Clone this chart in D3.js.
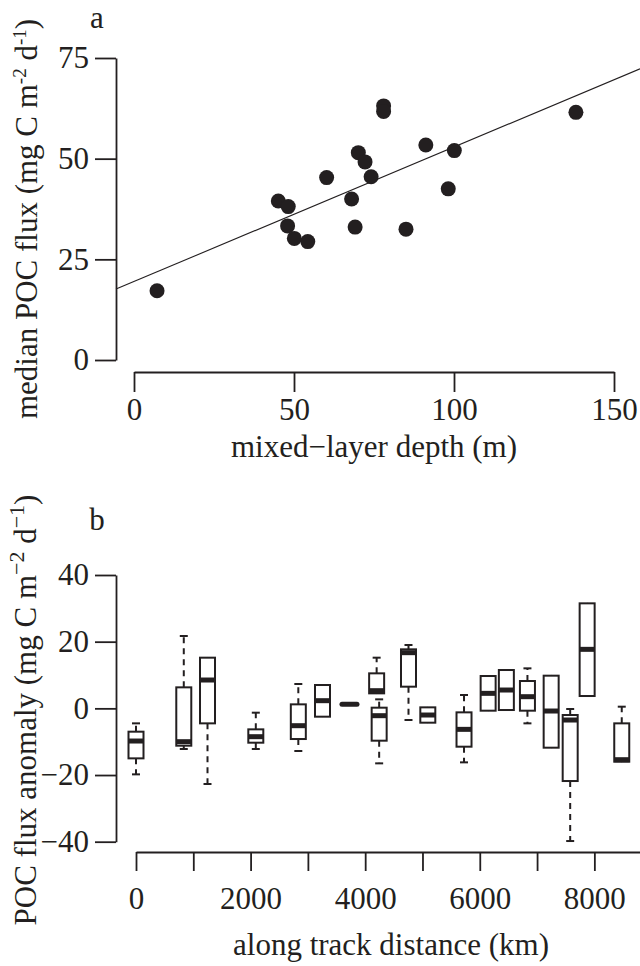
<!DOCTYPE html>
<meta charset="utf-8">
<style>
  body { margin: 0; background: #fff; }
  text { font-family: "Liberation Serif", "Times New Roman", serif; }
</style>
<svg width="640" height="966"></svg>
<script src="https://d3js.org/d3.v7.min.js"></script>
<script>

// panel a: mixed-layer depth vs median POC flux
var mld  = [7.2, 45.1, 48.2, 48.0, 50.1, 54.3, 60.2, 68.0, 69.1, 70.1, 72.2, 74.1, 78.0, 78.0, 85.0, 91.2, 98.2, 100.1, 138.1];
var flux = [17.2, 39.5, 38.1, 33.3, 30.2, 29.4, 45.3, 40.0, 33.0, 51.5, 49.2, 45.5, 63.1, 61.7, 32.5, 53.4, 42.5, 52.0, 61.5];
var fitIntercept = 19.5,
    fitSlope = 0.334;
var mldTicks = [0, 50, 100, 150];
var fluxTicks = [0, 25, 50, 75];

// panel b: POC flux anomaly along the track
var distance = [0, 834, 1248, 2091, 2833, 3255, 3726, 4200, 4244, 4756, 5093, 5725, 6146, 6464, 6832, 7246, 7578, 7874, 8478];
var whiskLo  = [-19.8, -12.2, -22.7, -12.2, -12.8, -2.5, 1.2, 4.5, -16.5, -3.5, -4.3, -16.2, -0.7, -0.5, -4.5, -11.8, -39.8, 3.7, -16.0];
var q1       = [-15.0, -11.2, -4.5, -10.3, -9.2, -2.5, 1.2, 4.5, -9.7, 6.5, -4.3, -11.5, -0.7, -0.5, -0.7, -11.8, -21.8, 3.7, -16.0];
var median   = [-9.8, -10.0, 8.5, -8.5, -5.2, 2.3, 1.2, 5.3, -2.2, 16.7, -2.0, -6.3, 4.5, 5.5, 3.5, -0.8, -3.5, 17.7, -15.4];
var q3       = [-7.0, 6.3, 15.2, -6.3, 1.2, 7.0, 1.2, 10.5, 0.2, 17.7, 0.3, -1.2, 9.7, 11.5, 8.2, 9.8, -2.0, 31.5, -4.5];
var whiskHi  = [-4.5, 21.7, 15.2, -1.3, 7.3, 7.0, 1.2, 15.2, 2.7, 19.0, 0.3, 4.0, 9.7, 11.5, 12.0, 9.8, -0.2, 31.5, 0.5];
var distTicks = d3.range(0, 8001, 1000);
var anomTicks = [-40, -20, 0, 20, 40];

var ink = "#231f20";
var svg = d3.select("svg");

function styleAxis(g) {
  g.attr("font-family", "'Liberation Serif', 'Times New Roman', serif")
   .attr("font-size", 31);
  g.selectAll("path, line").attr("stroke", ink).attr("stroke-width", 1.8);
  g.selectAll("text").attr("fill", ink);
}

// ---------- panel a ----------
var x1 = d3.scaleLinear().domain([0, 150]).range([134, 614]);
var y1 = d3.scaleLinear().domain([0, 75]).range([360, 58]);

svg.append("g")
    .attr("transform", "translate(0,372)")
    .call(d3.axisBottom(x1).tickValues(mldTicks).tickSize(20).tickSizeOuter(0).tickPadding(6))
    .call(styleAxis);

svg.append("g")
    .attr("transform", "translate(116,0)")
    .call(d3.axisLeft(y1).tickValues(fluxTicks).tickSize(21).tickSizeOuter(0).tickPadding(6))
    .call(styleAxis);

// regression line across the plot region
var xa = x1.invert(116), xb = x1.invert(640);
svg.append("line")
    .attr("x1", x1(xa)).attr("y1", y1(fitIntercept + fitSlope * xa))
    .attr("x2", x1(xb)).attr("y2", y1(fitIntercept + fitSlope * xb))
    .attr("stroke", ink)
    .attr("stroke-width", 1.1);

svg.append("g")
  .selectAll("circle")
  .data(mld)
  .enter().append("circle")
    .attr("cx", function(d) { return x1(d); })
    .attr("cy", function(d, i) { return y1(flux[i]); })
    .attr("r", 7.5)
    .attr("fill", ink);

svg.append("text")
    .attr("x", 97).attr("y", 28)
    .attr("text-anchor", "middle")
    .attr("font-size", 31)
    .attr("fill", ink)
    .text("a");

svg.append("text")
    .attr("x", 374).attr("y", 457)
    .attr("text-anchor", "middle")
    .attr("font-size", 31)
    .attr("fill", ink)
    .text("mixed\u2212layer depth (m)");

var ylab1 = svg.append("text")
    .attr("transform", "translate(37,219) rotate(-90)")
    .attr("text-anchor", "middle")
    .attr("font-size", 31)
    .attr("fill", ink);
ylab1.append("tspan").text("median POC flux (mg C m");
ylab1.append("tspan").attr("dy", -11).attr("font-size", 19).text("-2");
ylab1.append("tspan").attr("dy", 11).text(" d");
ylab1.append("tspan").attr("dy", -11).attr("font-size", 19).text("-1");
ylab1.append("tspan").attr("dy", 11).text(")");

// ---------- panel b ----------
var x2 = d3.scaleLinear().domain([0, 8800]).range([136, 640.2]);
var y2 = d3.scaleLinear().domain([-40, 40]).range([841.7, 575]);

svg.append("g")
    .attr("transform", "translate(0,852)")
    .call(d3.axisBottom(x2).tickValues(distTicks).tickSize(19).tickSizeOuter(0).tickPadding(16)
      .tickFormat(function(d) { return d % 2000 === 0 ? d : ""; }))
    .call(styleAxis);

svg.append("g")
    .attr("transform", "translate(116,0)")
    .call(d3.axisLeft(y2).tickValues(anomTicks).tickSize(21).tickSizeOuter(0).tickPadding(6))
    .call(styleAxis);

var boxW = 15, capW = 8;
var boxes = svg.append("g")
  .selectAll("g")
  .data(distance)
  .enter().append("g");

// whiskers (dashed) and caps
boxes.append("line")
    .attr("x1", function(d) { return x2(d); }).attr("x2", function(d) { return x2(d); })
    .attr("y1", function(d, i) { return y2(q3[i]); })
    .attr("y2", function(d, i) { return y2(whiskHi[i]); })
    .attr("stroke", ink).attr("stroke-width", 2).attr("stroke-dasharray", "6,5");
boxes.append("line")
    .attr("x1", function(d) { return x2(d); }).attr("x2", function(d) { return x2(d); })
    .attr("y1", function(d, i) { return y2(q1[i]); })
    .attr("y2", function(d, i) { return y2(whiskLo[i]); })
    .attr("stroke", ink).attr("stroke-width", 2).attr("stroke-dasharray", "6,5");
boxes.filter(function(d, i) { return whiskHi[i] > q3[i]; })
  .append("line")
    .attr("x1", function(d) { return x2(d) - capW / 2; })
    .attr("x2", function(d) { return x2(d) + capW / 2; })
    .attr("y1", function(d) { var i = distance.indexOf(d); return y2(whiskHi[i]); })
    .attr("y2", function(d) { var i = distance.indexOf(d); return y2(whiskHi[i]); })
    .attr("stroke", ink).attr("stroke-width", 2);
boxes.filter(function(d, i) { return whiskLo[i] < q1[i]; })
  .append("line")
    .attr("x1", function(d) { return x2(d) - capW / 2; })
    .attr("x2", function(d) { return x2(d) + capW / 2; })
    .attr("y1", function(d) { var i = distance.indexOf(d); return y2(whiskLo[i]); })
    .attr("y2", function(d) { var i = distance.indexOf(d); return y2(whiskLo[i]); })
    .attr("stroke", ink).attr("stroke-width", 2);

boxes.append("rect")
    .attr("x", function(d) { return x2(d) - boxW / 2; })
    .attr("y", function(d, i) { return y2(q3[i]); })
    .attr("width", boxW)
    .attr("height", function(d, i) { return y2(q1[i]) - y2(q3[i]); })
    .attr("fill", "#fff")
    .attr("stroke", ink)
    .attr("stroke-width", 2);

boxes.append("line")
    .attr("x1", function(d) { return x2(d) - boxW / 2; })
    .attr("x2", function(d) { return x2(d) + boxW / 2; })
    .attr("y1", function(d, i) { return y2(median[i]); })
    .attr("y2", function(d, i) { return y2(median[i]); })
    .attr("stroke", ink)
    .attr("stroke-width", 5)
    .attr("stroke-linecap", function(d, i) { return q1[i] === q3[i] ? "round" : "butt"; });

svg.append("text")
    .attr("x", 97).attr("y", 530)
    .attr("text-anchor", "middle")
    .attr("font-size", 31)
    .attr("fill", ink)
    .text("b");

svg.append("text")
    .attr("x", 391).attr("y", 955)
    .attr("text-anchor", "middle")
    .attr("font-size", 31)
    .attr("fill", ink)
    .text("along track distance (km)");

var ylab2 = svg.append("text")
    .attr("transform", "translate(36,710) rotate(-90)")
    .attr("text-anchor", "middle")
    .attr("font-size", 31)
    .attr("fill", ink);
ylab2.append("tspan").text("POC flux anomaly (mg C m");
ylab2.append("tspan").attr("dy", -12).attr("font-size", 22).text("\u22122");
ylab2.append("tspan").attr("dy", 12).text(" d");
ylab2.append("tspan").attr("dy", -12).attr("font-size", 22).text("\u22121");
ylab2.append("tspan").attr("dy", 12).text(")");

</script>
